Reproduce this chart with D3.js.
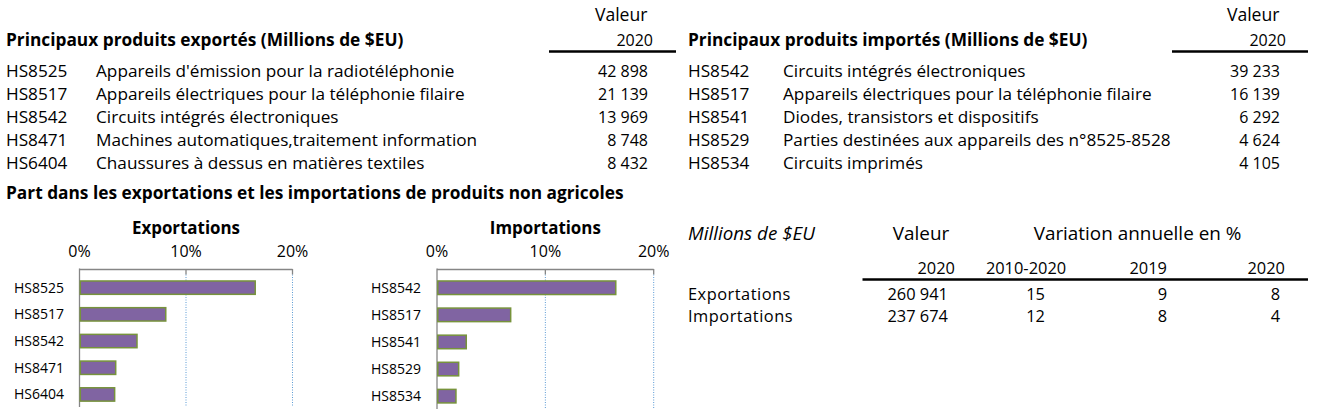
<!DOCTYPE html>
<html><head><meta charset="utf-8">
<script src="https://cdn.jsdelivr.net/npm/d3@7"></script>
<style>
html,body{margin:0;padding:0;background:#fff;}
svg{display:block;font-family:"Open Sans", "Noto Sans", sans-serif;}
</style></head>
<body>
<svg id="chart" width="1322" height="417"></svg>
<script>
// ---- Data ----
const exportCodes = ["HS8525","HS8517","HS8542","HS8471","HS6404"];
const exportNames = ["Appareils d'émission pour la radiotéléphonie","Appareils électriques pour la téléphonie filaire","Circuits intégrés électroniques","Machines automatiques,traitement information","Chaussures à dessus en matières textiles"];
const exportValues = [42898, 21139, 13969, 8748, 8432];
const importCodes = ["HS8542","HS8517","HS8541","HS8529","HS8534"];
const importNames = ["Circuits intégrés électroniques","Appareils électriques pour la téléphonie filaire","Diodes, transistors et dispositifs","Parties destinées aux appareils des n°8525-8528","Circuits imprimés"];
const importValues = [39233, 16139, 6292, 4624, 4105];
const exportShares = [16.5, 8.1, 5.4, 3.4, 3.3];
const importShares = [16.5, 6.8, 2.7, 2.0, 1.75];
const shareTicks = [0, 10, 20];
const summaryRows = ["Exportations","Importations"];
const summaryValue2020 = [260941, 237674];
const summaryVar20102020 = [15, 12];
const summaryVar2019 = [9, 8];
const summaryVar2020 = [8, 4];

const fr = d3.formatLocale({decimal:",", thousands:" ", grouping:[3], currency:["","$"]});
const fmt = fr.format(",d");

const svg = d3.select("#chart");
svg.append("rect").attr("width",1322).attr("height",417).attr("fill","#fff");

// font sizes per text role
const FS = {word:17.2, num:16, title:17.3, head:17.6, barTitle:16.9, tick:16, barLabel:14,
            sumWord:18.9, sumRow:16.4, sumNum:16.4, sumItalic:18.8};
function txt(g, x, y, s, size, opts={}) {
  const t = g.append("text").attr("x",x).attr("y",y).text(s)
    .attr("font-size", size).attr("fill","#000");
  if (opts.anchor) t.attr("text-anchor", opts.anchor);
  if (opts.bold) t.attr("font-weight","bold");
  if (opts.italic) t.attr("font-style","italic");
  if (opts.ls) t.attr("letter-spacing", opts.ls);
  return t;
}

// ---- Top tables ----
function topTable(x0, descX, valRight, lineX1, lineX2, yearRight, title, codes, names, values) {
  const g = svg.append("g");
  txt(g, valRight - 26.8, 20.5, "Valeur", FS.head, {anchor:"middle"});
  txt(g, yearRight, 45.5, "2020", FS.num, {anchor:"end"});
  g.append("line").attr("x1",lineX1).attr("x2",lineX2).attr("y1",51.5).attr("y2",51.5)
    .attr("stroke","#000").attr("stroke-width",2.5);
  txt(g, x0, 46, title, FS.title, {bold:true});
  const y = d3.scalePoint().domain(codes).range([76.5, 168.7]);
  codes.forEach((c,i) => {
    txt(g, x0, y(c), c, FS.word);
    txt(g, descX, y(c), names[i], FS.word);
    txt(g, valRight, y(c), fmt(values[i]), FS.num, {anchor:"end"});
  });
}
topTable(6, 96, 648, 549, 676, 653, "Principaux produits exportés (Millions de $EU)", exportCodes, exportNames, exportValues);
topTable(688, 783, 1280, 1172, 1308, 1286, "Principaux produits importés (Millions de $EU)", importCodes, importNames, importValues);

txt(svg, 6, 198.5, "Part dans les exportations et les importations de produits non agricoles", FS.title, {bold:true});

// ---- Bar charts ----
function barChart(title, codes, shares, xr, yr, axisBottom, labelRight) {
  const g = svg.append("g");
  const x = d3.scaleLinear().domain([0,20]).range(xr);
  const y = d3.scaleBand().domain(codes).range(yr).paddingInner(0.5).paddingOuter(0.25);
  const axisY = 269.5;
  shareTicks.filter(d=>d>0).forEach(d => {
    g.append("line").attr("x1",x(d)).attr("x2",x(d)).attr("y1",axisY+5).attr("y2",axisBottom)
      .attr("stroke","#5b9bd5").attr("stroke-width",1).attr("stroke-dasharray","1,1.5");
    g.append("line").attr("x1",x(d)).attr("x2",x(d)).attr("y1",axisY-0.5).attr("y2",axisY+5)
      .attr("stroke","#868686").attr("stroke-width",1.3);
  });
  g.append("line").attr("x1",x(0)).attr("x2",x(20)).attr("y1",axisY).attr("y2",axisY)
    .attr("stroke","#868686").attr("stroke-width",1.3);
  g.append("line").attr("x1",x(0)).attr("x2",x(0)).attr("y1",axisY-1).attr("y2",axisBottom)
    .attr("stroke","#868686").attr("stroke-width",1.3);
  shareTicks.forEach(d => txt(g, x(d), 256.5, d + "%", FS.tick, {anchor:"middle"}));
  txt(g, (x(0)+x(20))/2, 234, title, FS.barTitle, {anchor:"middle", bold:true});
  g.selectAll("rect.bar").data(codes).join("rect").attr("class","bar")
    .attr("x", x(0)+0.8).attr("y", d=>y(d))
    .attr("width", (d,i)=>x(shares[i])-x(0)-0.8).attr("height", y.bandwidth())
    .attr("fill","#8064a2").attr("stroke","#77933c").attr("stroke-width",1.5);
  codes.forEach(c => txt(g, labelRight, y(c)+y.bandwidth()/2+5, c, FS.barLabel, {anchor:"end"}));
}
barChart("Exportations", exportCodes, exportShares, [79.5, 292.5], [274.3, 407.8], 407, 64);
barChart("Importations", importCodes, importShares, [437, 653.7], [274.2, 409.7], 409, 421);

// ---- Summary table ----
const sg = svg.append("g");
txt(sg, 688, 239.5, "Millions de $EU", FS.sumItalic, {italic:true});
txt(sg, 921, 239.5, "Valeur", FS.sumWord, {anchor:"middle"});
txt(sg, 1137.5, 239.5, "Variation annuelle en %", FS.sumWord, {anchor:"middle"});
txt(sg, 955, 273.5, "2020", FS.sumNum, {anchor:"end"});
txt(sg, 1026, 273.5, "2010-2020", FS.sumNum, {anchor:"middle"});
txt(sg, 1167, 273.5, "2019", FS.sumNum, {anchor:"end"});
txt(sg, 1285, 273.5, "2020", FS.sumNum, {anchor:"end"});
sg.append("line").attr("x1",862.5).attr("x2",1308).attr("y1",279.5).attr("y2",279.5)
  .attr("stroke","#000").attr("stroke-width",2.5);
const ry = d3.scalePoint().domain(summaryRows).range([299.5, 322]);
summaryRows.forEach((r,i) => {
  txt(sg, 688, ry(r), r, FS.sumRow, {ls:0.5});
  txt(sg, 948, ry(r), fmt(summaryValue2020[i]), FS.sumNum, {anchor:"end"});
  txt(sg, 1045, ry(r), summaryVar20102020[i], FS.sumNum, {anchor:"end"});
  txt(sg, 1167, ry(r), summaryVar2019[i], FS.sumNum, {anchor:"end"});
  txt(sg, 1280, ry(r), summaryVar2020[i], FS.sumNum, {anchor:"end"});
});
</script>
</body></html>
